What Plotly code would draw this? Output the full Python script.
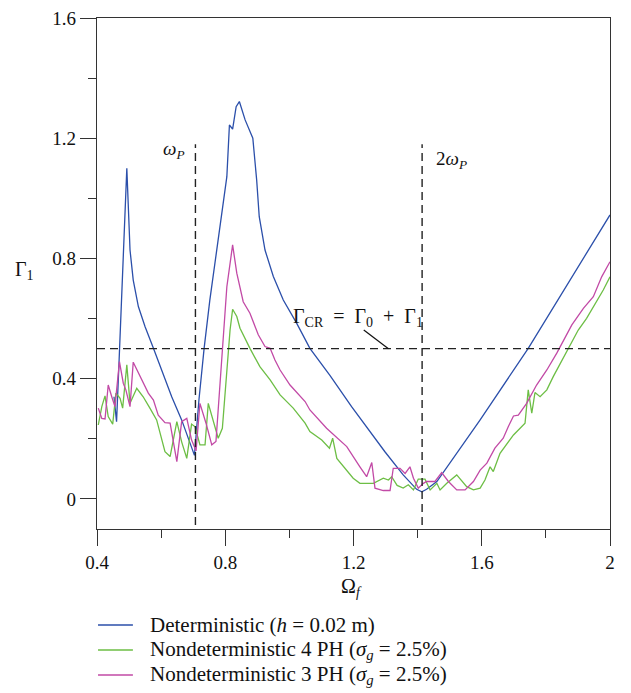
import plotly.graph_objects as go

# ---- data ----
det_x = [0.453, 0.461, 0.469, 0.493, 0.503, 0.513, 0.529, 0.550, 0.576, 0.602, 0.633, 0.664, 0.690, 0.704,
         0.718, 0.734, 0.752, 0.784, 0.805, 0.813, 0.823, 0.834, 0.844, 0.862, 0.886, 0.898, 0.906, 0.924,
         0.950, 0.981, 1.023, 1.064, 1.127, 1.194, 1.298, 1.355, 1.397, 1.413, 1.428, 1.460, 1.501, 1.595,
         1.745, 2.000]
det_y = [0.340, 0.257, 0.462, 1.100, 0.828, 0.728, 0.640, 0.573, 0.501, 0.429, 0.340, 0.263, 0.185, 0.145,
         0.330, 0.500, 0.662, 0.906, 1.072, 1.244, 1.230, 1.305, 1.322, 1.261, 1.200, 1.061, 0.939, 0.828,
         0.740, 0.662, 0.584, 0.501, 0.410, 0.307, 0.157, 0.080, 0.032, 0.024, 0.032, 0.058, 0.119, 0.263,
         0.501, 0.945]

ph4_x = [0.404, 0.415, 0.425, 0.435, 0.449, 0.459, 0.472, 0.480, 0.493, 0.503, 0.524, 0.544, 0.565, 0.586,
         0.612, 0.628, 0.649, 0.664, 0.680, 0.695, 0.706, 0.721, 0.737, 0.747, 0.778, 0.791, 0.815, 0.823,
         0.836, 0.846, 0.877, 0.908, 0.940, 0.971, 1.012, 1.049, 1.064, 1.101, 1.125, 1.135, 1.148, 1.199,
         1.220, 1.262, 1.293, 1.309, 1.319, 1.336, 1.355, 1.371, 1.387, 1.402, 1.423, 1.439, 1.460, 1.470,
         1.491, 1.522, 1.553, 1.574, 1.595, 1.610, 1.626, 1.636, 1.657, 1.699, 1.735, 1.745, 1.756, 1.766,
         1.782, 1.803, 1.823, 1.849, 1.875, 1.901, 1.927, 1.948, 1.979, 2.000]
ph4_y = [0.246, 0.307, 0.343, 0.274, 0.249, 0.352, 0.335, 0.302, 0.446, 0.318, 0.368, 0.340, 0.302, 0.263,
         0.157, 0.141, 0.257, 0.190, 0.135, 0.249, 0.240, 0.180, 0.180, 0.318, 0.202, 0.235, 0.562, 0.631,
         0.607, 0.568, 0.501, 0.440, 0.396, 0.346, 0.302, 0.252, 0.224, 0.196, 0.169, 0.202, 0.135, 0.069,
         0.052, 0.052, 0.069, 0.063, 0.074, 0.045, 0.036, 0.047, 0.030, 0.066, 0.066, 0.030, 0.052, 0.030,
         0.052, 0.080, 0.041, 0.030, 0.036, 0.063, 0.107, 0.091, 0.152, 0.213, 0.252, 0.363, 0.285, 0.354,
         0.340, 0.363, 0.407, 0.457, 0.507, 0.562, 0.601, 0.640, 0.695, 0.739]

ph3_x = [0.404, 0.415, 0.425, 0.435, 0.446, 0.456, 0.470, 0.482, 0.490, 0.503, 0.513, 0.534, 0.560, 0.576,
         0.591, 0.612, 0.628, 0.649, 0.664, 0.680, 0.695, 0.709, 0.721, 0.740, 0.758, 0.771, 0.784, 0.805,
         0.823, 0.836, 0.856, 0.877, 0.903, 0.924, 0.940, 0.955, 0.971, 1.002, 1.049, 1.064, 1.116, 1.179,
         1.220, 1.241, 1.257, 1.267, 1.293, 1.314, 1.324, 1.345, 1.361, 1.376, 1.387, 1.402, 1.418, 1.428,
         1.454, 1.475, 1.496, 1.522, 1.548, 1.574, 1.595, 1.616, 1.641, 1.667, 1.683, 1.699, 1.714, 1.740,
         1.771, 1.803, 1.834, 1.860, 1.881, 1.917, 1.948, 1.974, 2.000]
ph3_y = [0.302, 0.268, 0.266, 0.379, 0.340, 0.307, 0.457, 0.385, 0.363, 0.307, 0.455, 0.407, 0.352, 0.329,
         0.279, 0.254, 0.252, 0.124, 0.257, 0.268, 0.196, 0.160, 0.318, 0.252, 0.180, 0.191, 0.396, 0.706,
         0.845, 0.751, 0.656, 0.618, 0.546, 0.507, 0.501, 0.462, 0.429, 0.379, 0.324, 0.296, 0.235, 0.174,
         0.107, 0.074, 0.121, 0.036, 0.028, 0.028, 0.102, 0.102, 0.085, 0.107, 0.069, 0.036, 0.052, 0.058,
         0.058, 0.088, 0.058, 0.030, 0.030, 0.058, 0.096, 0.119, 0.169, 0.202, 0.241, 0.276, 0.279, 0.318,
         0.379, 0.429, 0.485, 0.540, 0.579, 0.634, 0.673, 0.739, 0.789]

names = ["Deterministic (<i>h</i> = 0.02 m)",
         "Nondeterministic 4 PH (<i>σ<sub>g</sub></i> = 2.5%)",
         "Nondeterministic 3 PH (<i>σ<sub>g</sub></i> = 2.5%)"]
colors = ["#2B4FAA", "#6DBE45", "#C24AA6"]

x_tickvals = [0.4, 0.8, 1.2, 1.6, 2.0]
x_ticktext = ["0.4", "0.8", "1.2", "1.6", "2"]
y_tickvals = [0, 0.4, 0.8, 1.2, 1.6]
y_ticktext = ["0", "0.4", "0.8", "1.2", "1.6"]

omega_p = 0.707
two_omega_p = 1.414
gamma_cr = 0.5
x_range = [0.4, 2.0]
y_range = [-0.1, 1.6]

FONT = "Liberation Serif"
TXT = "#111111"

fig = go.Figure()
for xs, ys, nm, c in [(det_x, det_y, names[0], colors[0]),
                      (ph4_x, ph4_y, names[1], colors[1]),
                      (ph3_x, ph3_y, names[2], colors[2])]:
    fig.add_trace(go.Scatter(x=xs, y=ys, mode="lines", name=nm, showlegend=False,
                             line=dict(color=c, width=1.3)))

dash = dict(color="#222222", width=1.4, dash="8px,5px")
fig.add_shape(type="line", x0=omega_p, x1=omega_p, y0=-0.087, y1=1.18, xref="x", yref="y", line=dash)
fig.add_shape(type="line", x0=two_omega_p, x1=two_omega_p, y0=-0.087, y1=1.18, xref="x", yref="y", line=dash)
fig.add_shape(type="line", x0=x_range[0], x1=x_range[1], y0=gamma_cr, y1=gamma_cr, xref="x", yref="y", line=dash)
fig.add_shape(type="line", x0=1.232, x1=1.309, y0=0.562, y1=gamma_cr, xref="x", yref="y",
              line=dict(color="#111111", width=1.2))

ann_font = dict(family=FONT, size=19, color=TXT)
fig.add_annotation(x=0.640, y=1.161, text="<i>ω<sub>P</sub></i>", showarrow=False, font=ann_font)
fig.add_annotation(x=1.507, y=1.128, text="2<i>ω<sub>P</sub></i>", showarrow=False, font=ann_font)
fig.add_annotation(x=1.214, y=0.605, text="Γ<sub>CR</sub>  =  Γ<sub>0</sub>  +  Γ<sub>1</sub>",
                   showarrow=False, font=dict(family=FONT, size=20, color=TXT))

# axis titles (horizontal, as in the reference)
fig.add_annotation(xref="paper", yref="paper", x=-0.142, y=0.505, text="Γ<sub>1</sub>",
                   xanchor="center", yanchor="middle",
                   showarrow=False, font=dict(family=FONT, size=20, color=TXT))
fig.add_annotation(xref="paper", yref="paper", x=0.497, y=-0.115, text="Ω<sub><i>f</i></sub>",
                   xanchor="center", yanchor="middle",
                   showarrow=False, font=dict(family=FONT, size=20, color=TXT))

# legend (drawn manually to match the reference layout)
leg_rows_y = [-0.1879, -0.2368, -0.2857]
for nm, c, ly in zip(names, colors, leg_rows_y):
    fig.add_shape(type="line", xref="paper", yref="paper", x0=0.002, x1=0.070, y0=ly, y1=ly,
                  line=dict(color=c, width=1.6))
    fig.add_annotation(xref="paper", yref="paper", x=0.0994, y=ly, text=nm, xanchor="left",
                       yanchor="middle", showarrow=False, font=dict(family=FONT, size=21, color=TXT))

axis_common = dict(showline=True, mirror=True, linecolor="#333333", linewidth=1.4,
                   ticks="outside", ticklen=16, tickwidth=1.4, tickcolor="#333333",
                   showgrid=False, zeroline=False, automargin=False,
                   tickfont=dict(family=FONT, size=19, color=TXT))

fig.update_xaxes(range=x_range, tickvals=x_tickvals, ticktext=x_ticktext,
                 minor=dict(dtick=0.2, tick0=0.4, ticklen=8, tickwidth=1.4, tickcolor="#333333", ticks="outside"),
                 **axis_common)
fig.update_yaxes(range=y_range, tickvals=y_tickvals, ticktext=y_ticktext,
                 minor=dict(dtick=0.2, tick0=0, ticklen=8, tickwidth=1.4, tickcolor="#333333", ticks="outside"),
                 **axis_common)

fig.update_layout(
    width=631, height=693,
    margin=dict(l=97, r=21, t=18, b=164),
    plot_bgcolor="white", paper_bgcolor="white",
    showlegend=False,
)

fig.write_html("out.html")
